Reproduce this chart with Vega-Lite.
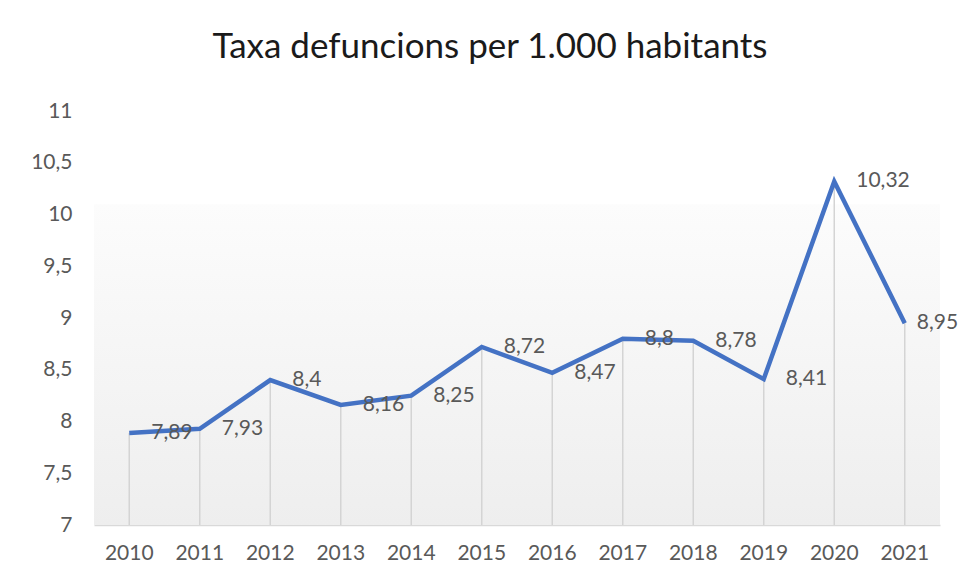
{
  "$schema": "https://vega.github.io/schema/vega-lite/v6.json",
  "width": 846,
  "height": 414,
  "autosize": "none",
  "padding": {"left": 94, "top": 111, "right": 18, "bottom": 53},
  "background": "white",
  "config": {"view": {"stroke": null}, "font": "Lato"},
  "title": {
    "text": "Taxa defuncions per 1.000 habitants",
    "font": "Lato",
    "fontSize": 35,
    "fontWeight": "normal",
    "color": "#1a1a1a",
    "frame": "group",
    "baseline": "alphabetic",
    "offset": 7,
    "dx": -27
  },
  "datasets": {
    "rates": [
      {"year": "2010", "rate": 7.89, "label": "7,89"},
      {"year": "2011", "rate": 7.93, "label": "7,93"},
      {"year": "2012", "rate": 8.4, "label": "8,4"},
      {"year": "2013", "rate": 8.16, "label": "8,16"},
      {"year": "2014", "rate": 8.25, "label": "8,25"},
      {"year": "2015", "rate": 8.72, "label": "8,72"},
      {"year": "2016", "rate": 8.47, "label": "8,47"},
      {"year": "2017", "rate": 8.8, "label": "8,8"},
      {"year": "2018", "rate": 8.78, "label": "8,78"},
      {"year": "2019", "rate": 8.41, "label": "8,41"},
      {"year": "2020", "rate": 10.32, "label": "10,32"},
      {"year": "2021", "rate": 8.95, "label": "8,95"}
    ],
    "band": [{"top": 10.1, "bottom": 7}]
  },
  "layer": [
    {
      "data": {"name": "band"},
      "mark": {
        "type": "rect",
        "fill": {
          "gradient": "linear",
          "x1": 0, "y1": 0, "x2": 0, "y2": 1,
          "stops": [
            {"offset": 0, "color": "#fcfcfc"},
            {"offset": 1, "color": "#eeeeee"}
          ]
        }
      },
      "encoding": {
        "y": {"field": "top", "type": "quantitative", "scale": {"domain": [7, 11], "nice": false, "zero": false},
          "axis": {
            "title": null,
            "domain": false,
            "ticks": false,
            "grid": false,
            "values": [7, 7.5, 8, 8.5, 9, 9.5, 10, 10.5, 11],
            "labelExpr": "replace(format(datum.value, '.1~f'), '.', ',')",
            "labelFont": "Lato",
            "labelFontSize": 21,
            "labelColor": "#595959",
            "labelPadding": 22
          }
        },
        "y2": {"field": "bottom"}
      }
    },
    {
      "data": {"name": "rates"},
      "mark": {"type": "rule", "color": "#d4d4d4", "strokeWidth": 1.5},
      "encoding": {
        "x": {"field": "year", "type": "nominal",
          "scale": {"type": "band", "paddingInner": 0, "paddingOuter": 0},
          "axis": {
            "title": null,
            "labelAngle": 0,
            "ticks": false,
            "domainColor": "#d9d9d9",
            "domainWidth": 1.5,
            "labelFont": "Lato",
            "labelFontSize": 21,
            "labelColor": "#595959",
            "labelPadding": 17
          }
        },
        "y": {"field": "rate", "type": "quantitative"},
        "y2": {"datum": 7}
      }
    },
    {
      "data": {"name": "rates"},
      "mark": {"type": "line", "color": "#4472C4", "strokeWidth": 4.5, "strokeJoin": "miter"},
      "encoding": {
        "x": {"field": "year", "type": "nominal"},
        "y": {"field": "rate", "type": "quantitative"}
      }
    },
    {
      "data": {"name": "rates"},
      "transform": [{"filter": "datum.year != '2021'"}],
      "mark": {"type": "text", "align": "left", "baseline": "middle", "dx": 22, "fontSize": 21, "color": "#595959"},
      "encoding": {
        "x": {"field": "year", "type": "nominal"},
        "y": {"field": "rate", "type": "quantitative"},
        "text": {"field": "label"}
      }
    },
    {
      "data": {"name": "rates"},
      "transform": [{"filter": "datum.year == '2021'"}],
      "mark": {"type": "text", "align": "left", "baseline": "middle", "dx": 12, "fontSize": 21, "color": "#595959"},
      "encoding": {
        "x": {"field": "year", "type": "nominal"},
        "y": {"field": "rate", "type": "quantitative"},
        "text": {"field": "label"}
      }
    }
  ]
}
